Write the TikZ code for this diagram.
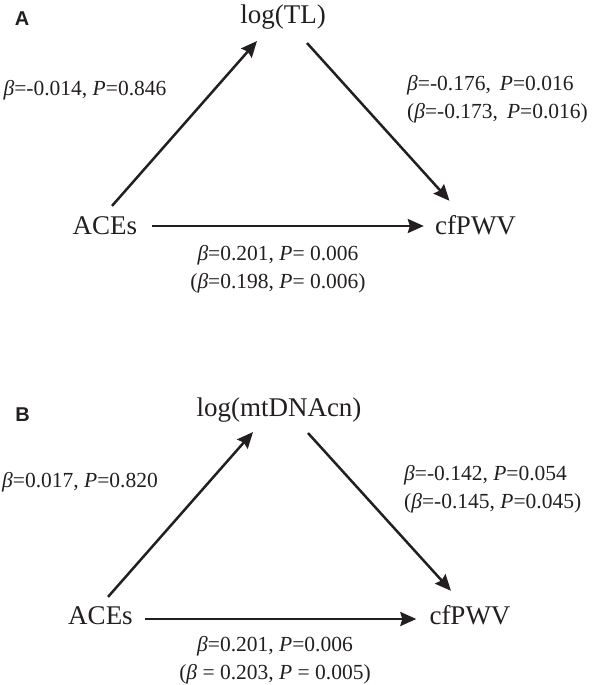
\documentclass[tikz,border=0pt]{standalone}
\usepackage{fontspec}
\setmainfont{Liberation Serif}
\newfontfamily\panelfont{Liberation Sans}
\usetikzlibrary{arrows.meta}
\definecolor{ink}{HTML}{231F20}
\begin{document}
\begin{tikzpicture}[x=1pt,y=-1pt,
  var/.style={inner sep=0pt, anchor=base, text=ink, font=\fontsize{27}{32}\selectfont},
  lab/.style={inner sep=0pt, text=ink, font=\fontsize{21.5}{28}\selectfont},
  panel/.style={inner sep=0pt, text=ink, font=\panelfont\bfseries\fontsize{20}{22}\selectfont},
  conn/.style={draw=ink, line width=2.5pt, -{Stealth[length=16pt,width=14pt,inset=2pt]}}]
\useasboundingbox (0,0) rectangle (594,685);

% ---------- Panel A ----------
\node[panel] (pA) at (22,19) {A};
\node[var] (tlA) at (283,24) {log(TL)};
\node[var] (aceA) at (105,234) {ACEs};
\node[var] (cfA) at (475.5,234) {cfPWV};

\draw[conn] ([shift={(7,-10)}]aceA.north) -- ([shift={(-26,11)}]tlA.south);
\draw[conn] ([shift={(24,13)}]tlA.south) -- ([shift={(-26,-14)}]cfA.north);
\draw[conn] ([shift={(15,-8)}]aceA.base east) -- ([shift={(-11,-8)}]cfA.base west);

\node[lab] (lA1) at (85,90) {\textit{β}=-0.014, \textit{P}=0.846};
\node[lab, align=left, anchor=west] (lA2) at (407,99) {\textit{β}=-0.176, \,\textit{P}=0.016\\(\textit{β}=-0.173, \,\textit{P}=0.016)};
\node[lab, align=center] (lA3) at (278,269) {\textit{β}=0.201, \textit{P}= 0.006\\(\textit{β}=0.198, \textit{P}= 0.006)};

% ---------- Panel B ----------
\node[panel] (pB) at (22.5,415) {B};
\node[var] (mtB) at (279,416) {log(mtDNAcn)};
\node[var] (aceB) at (100.5,624) {ACEs};
\node[var] (cfB) at (470,624) {cfPWV};

\draw[conn] ([shift={(7.5,-9)}]aceB.north) -- ([shift={(-26,10)}]mtB.south);
\draw[conn] ([shift={(29,11)}]mtB.south) -- ([shift={(-19,-14)}]cfB.north);
\draw[conn] ([shift={(12,-5)}]aceB.base east) -- ([shift={(-13,-5)}]cfB.base west);

\node[lab] (lB1) at (80,482) {\textit{β}=0.017, \textit{P}=0.820};
\node[lab, align=left, anchor=west] (lB2) at (404,489) {\textit{β}=-0.142, \textit{P}=0.054\\(\textit{β}=-0.145, \textit{P}=0.045)};
\node[lab, align=center] (lB3) at (275,660) {\textit{β}=0.201, \textit{P}=0.006\\(\textit{β} = 0.203, \textit{P} = 0.005)};
\end{tikzpicture}
\end{document}
